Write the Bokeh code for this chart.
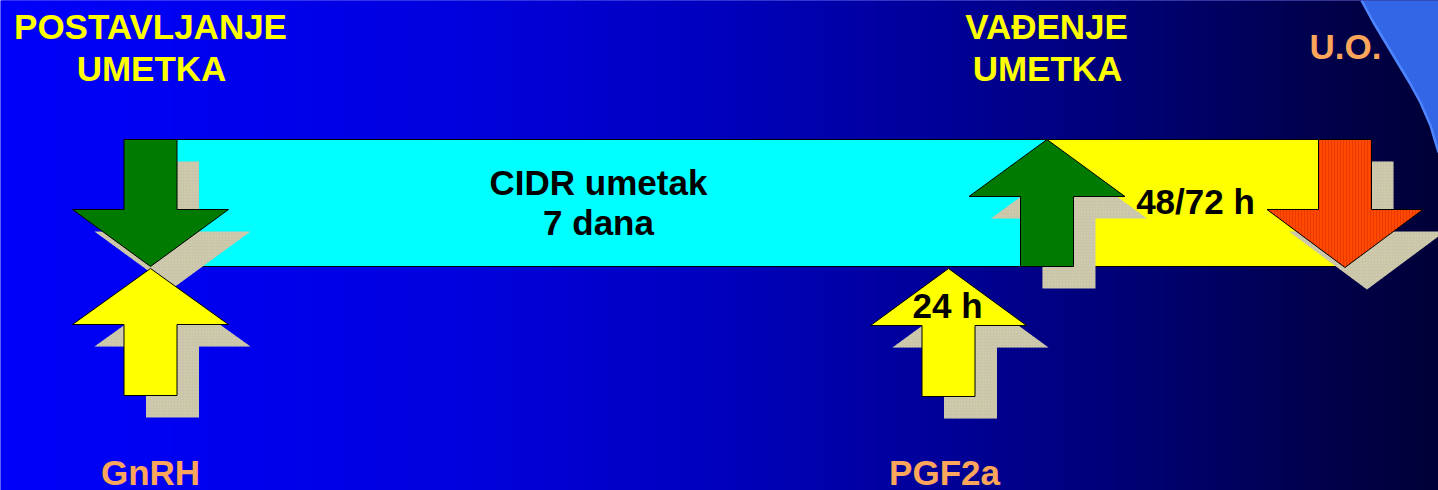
from bokeh.plotting import figure
from bokeh.models import Range1d
from bokeh.embed import file_html
from bokeh.resources import INLINE
from bokeh.core.properties import value

# ---------------- data ----------------
# background gradient control points (x position, blue channel)
grad_x = [0, 200, 450, 700, 950, 1150, 1300, 1438]
grad_b = [250, 240, 222, 192, 150, 112, 80, 55]

# decorative curved panel (top-right)
curve_x = [1361, 1373, 1385, 1397, 1409, 1420, 1430, 1438]
curve_y = [0, 22, 42, 62, 82, 102, 125, 152]

# timeline bars
bar_left = [150, 1046]
bar_right = [1046, 1345]
bar_top = [139, 139]
bar_bottom = [266, 266]
bar_color = ["#00FFFF", "#FFFF00"]

# arrows: centre x, tip y, head-base y, tail y, colour
arrow_x = [150, 150, 1046.5, 948, 1344.5]
arrow_tip = [266, 268, 139, 268, 267]
arrow_neck = [209, 324, 196, 325, 209]
arrow_tail = [139, 395, 266, 396, 139]
arrow_color = ["#007A00", "#FFFF00", "#007A00", "#FFFF00", "#FF4800"]

# labels (y = visual centre line of the text)
label_x = [150, 151, 1046, 1047, 1345, 598, 598, 947, 1195, 150, 944]
label_y = [26, 68, 26, 68, 46, 182, 222, 305, 201, 472, 472]
label_text = ["POSTAVLJANJE", "UMETKA", "VAĐENJE", "UMETKA", "U.O.",
              "CIDR umetak", "7 dana", "24 h", "48/72 h", "GnRH", "PGF2a"]
label_color = ["#FFFF00", "#FFFF00", "#FFFF00", "#FFFF00", "#FBA65A",
               "#000000", "#000000", "#000000", "#000000", "#FBA65A", "#FBA65A"]

# ---------------- figure ----------------
W, H = 1438, 490
p = figure(width=W, height=H, output_backend="svg", toolbar_location=None,
           x_range=Range1d(0, W), y_range=Range1d(H, 0),
           min_border=0, outline_line_color=None)
p.axis.visible = False
p.grid.visible = False
p.background_fill_color = "#0000F0"
p.border_fill_color = "#0000F0"

# background gradient strips
step = 3
lefts, rights, cols = [], [], []
x = 0
while x < 1440:
    for i in range(len(grad_x) - 1):
        if grad_x[i] <= x <= grad_x[i + 1] or i == len(grad_x) - 2:
            t = (x - grad_x[i]) / (grad_x[i + 1] - grad_x[i])
            t = max(0.0, min(1.0, t))
            b = grad_b[i] + t * (grad_b[i + 1] - grad_b[i])
            break
    lefts.append(x)
    rights.append(x + step + 1)
    cols.append("#0000%02X" % int(round(b)))
    x += step
p.quad(left=lefts, right=rights, top=[-10] * len(lefts), bottom=[500] * len(lefts),
       fill_color=cols, line_color=None)

# curved panel
px = curve_x + [1450, 1450]
py = curve_y + [curve_y[-1], -10]
p.patch(px, py, fill_color="#3366E6", line_color=None)
p.line(curve_x, curve_y, line_color="#4F86FF", line_width=2.5)

# bars
p.quad(left=bar_left, right=bar_right, top=bar_top, bottom=bar_bottom,
       fill_color=bar_color, line_color="#000000", line_width=1)


def arrow_shape(cx, tip, neck, tail, sw=26.5, hw=78):
    xs = [cx - sw, cx + sw, cx + sw, cx + hw, cx, cx - hw, cx - sw]
    ys = [tail, tail, neck, neck, tip, neck, neck]
    return xs, ys


SH = 22
for i in range(len(arrow_x)):
    xs, ys = arrow_shape(arrow_x[i], arrow_tip[i], arrow_neck[i], arrow_tail[i])
    p.patch([v + SH for v in xs], [v + SH for v in ys],
            fill_color="#C8C4AE", line_color=None,
            hatch_pattern=".", hatch_color="#D8D49A", hatch_scale=3, hatch_weight=1)
    if arrow_color[i] == "#FF4800":
        p.patch(xs, ys, fill_color=arrow_color[i], line_color="#000000", line_width=1,
                hatch_pattern="|", hatch_color="#E83A00", hatch_scale=3, hatch_weight=1)
    else:
        p.patch(xs, ys, fill_color=arrow_color[i], line_color="#000000", line_width=1)

p.text(x=label_x, y=label_y, text=label_text, text_color=label_color,
       text_font=value("Liberation Sans"), text_font_style="bold",
       text_font_size="35px", text_align="center", text_baseline="middle")

open("out.html", "w").write(file_html(p, INLINE))
